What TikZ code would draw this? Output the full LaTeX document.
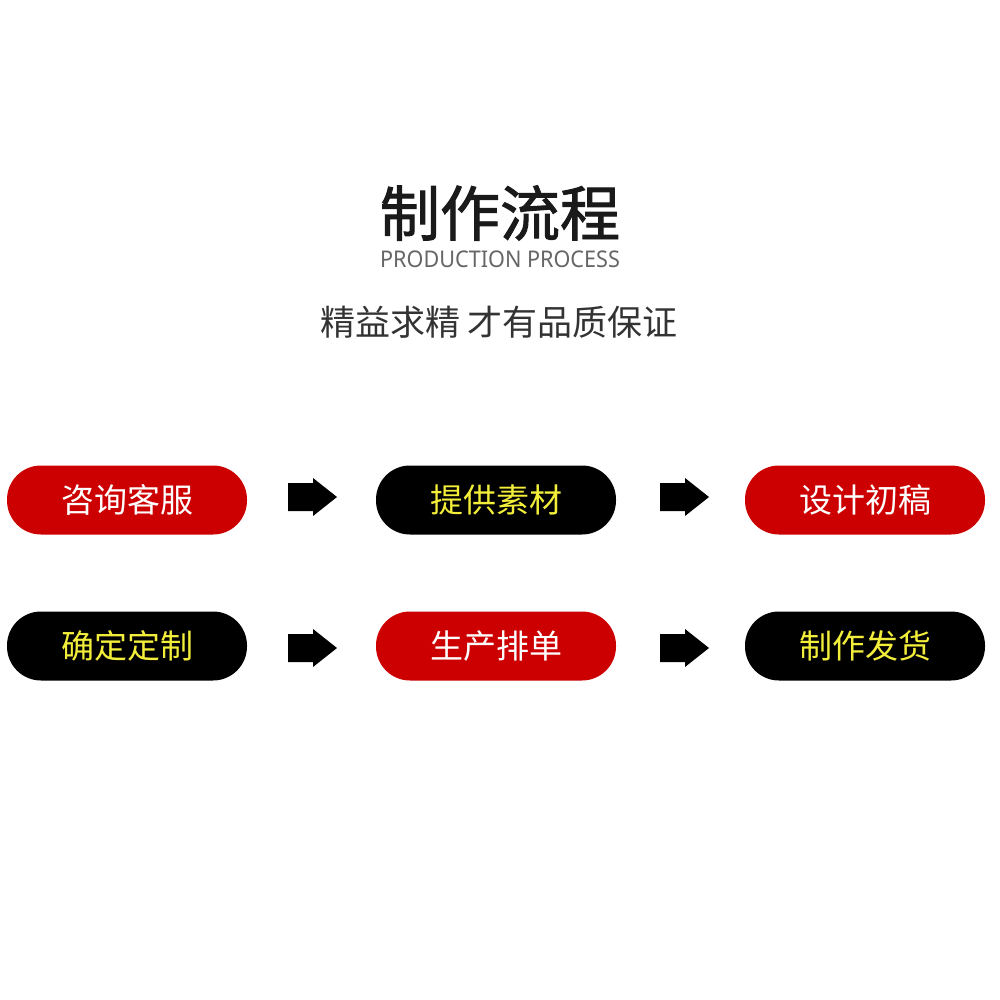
\documentclass[tikz,border=0pt]{standalone}
\usepackage{fontspec}
\setmainfont{Noto Sans CJK SC}
\newfontfamily\cjk{Noto Sans CJK SC}
\newfontfamily\cjktitle[FakeBold=1.6]{Noto Sans CJK SC}
\newfontfamily\latinlight{Noto Sans}
\usetikzlibrary{positioning}
\definecolor{pillred}{HTML}{CC0000}
\definecolor{pillyellow}{HTML}{F2EE3A}
\definecolor{titlegray}{HTML}{1A1A1A}
\definecolor{subgray}{HTML}{666666}
\definecolor{sloggray}{HTML}{333333}
\tikzset{
  pill/.style={rectangle, rounded corners=34pt, minimum width=240pt, minimum height=69pt, inner sep=0pt, font=\cjk\fontsize{33}{33}\selectfont},
  redpill/.style={pill, fill=pillred, text=white},
  blackpill/.style={pill, fill=black, text=pillyellow},
  blockarrow/.style={fill=black}
}
\begin{document}
\begin{tikzpicture}[x=1pt,y=-1pt]
\useasboundingbox (0,0) rectangle (1000,1000);
\fill[white] (0,0) rectangle (1000,1000);
% titles
\node[font=\cjktitle\fontsize{60}{60}\selectfont, text=titlegray] (title) at (500,213) {制作流程};
\node[font=\latinlight\fontsize{23}{23}\selectfont, text=subgray] (subtitle) at (500,259) {\scalebox{0.94}[1]{PRODUCTION PROCESS}};
\node[font=\cjk\fontsize{35}{35}\selectfont, text=sloggray] (slogan) at (499,322) {精益求精 才有品质保证};
% pills
\node[redpill] (p1) at (127,500) {咨询客服};
\node[blackpill] (p2) at (496,500) {提供素材};
\node[redpill] (p3) at (865,500) {设计初稿};
\node[blackpill] (p4) at (127,646) {确定定制};
\node[redpill] (p5) at (496,646) {生产排单};
\node[blackpill] (p6) at (865,646) {制作发货};
% arrows
\foreach \x/\y/\n in {288/497/a1, 660/497/a2, 288/648/a3, 660/648/a4}{
  \coordinate (\n) at (\x,\y);
  \fill[blockarrow] (\n) ++(0,-14) -- ++(25,0) -- ++(0,-5) -- ++(24,19) -- ++(-24,19) -- ++(0,-5) -- ++(-25,0) -- cycle;
}
\end{tikzpicture}
\end{document}
